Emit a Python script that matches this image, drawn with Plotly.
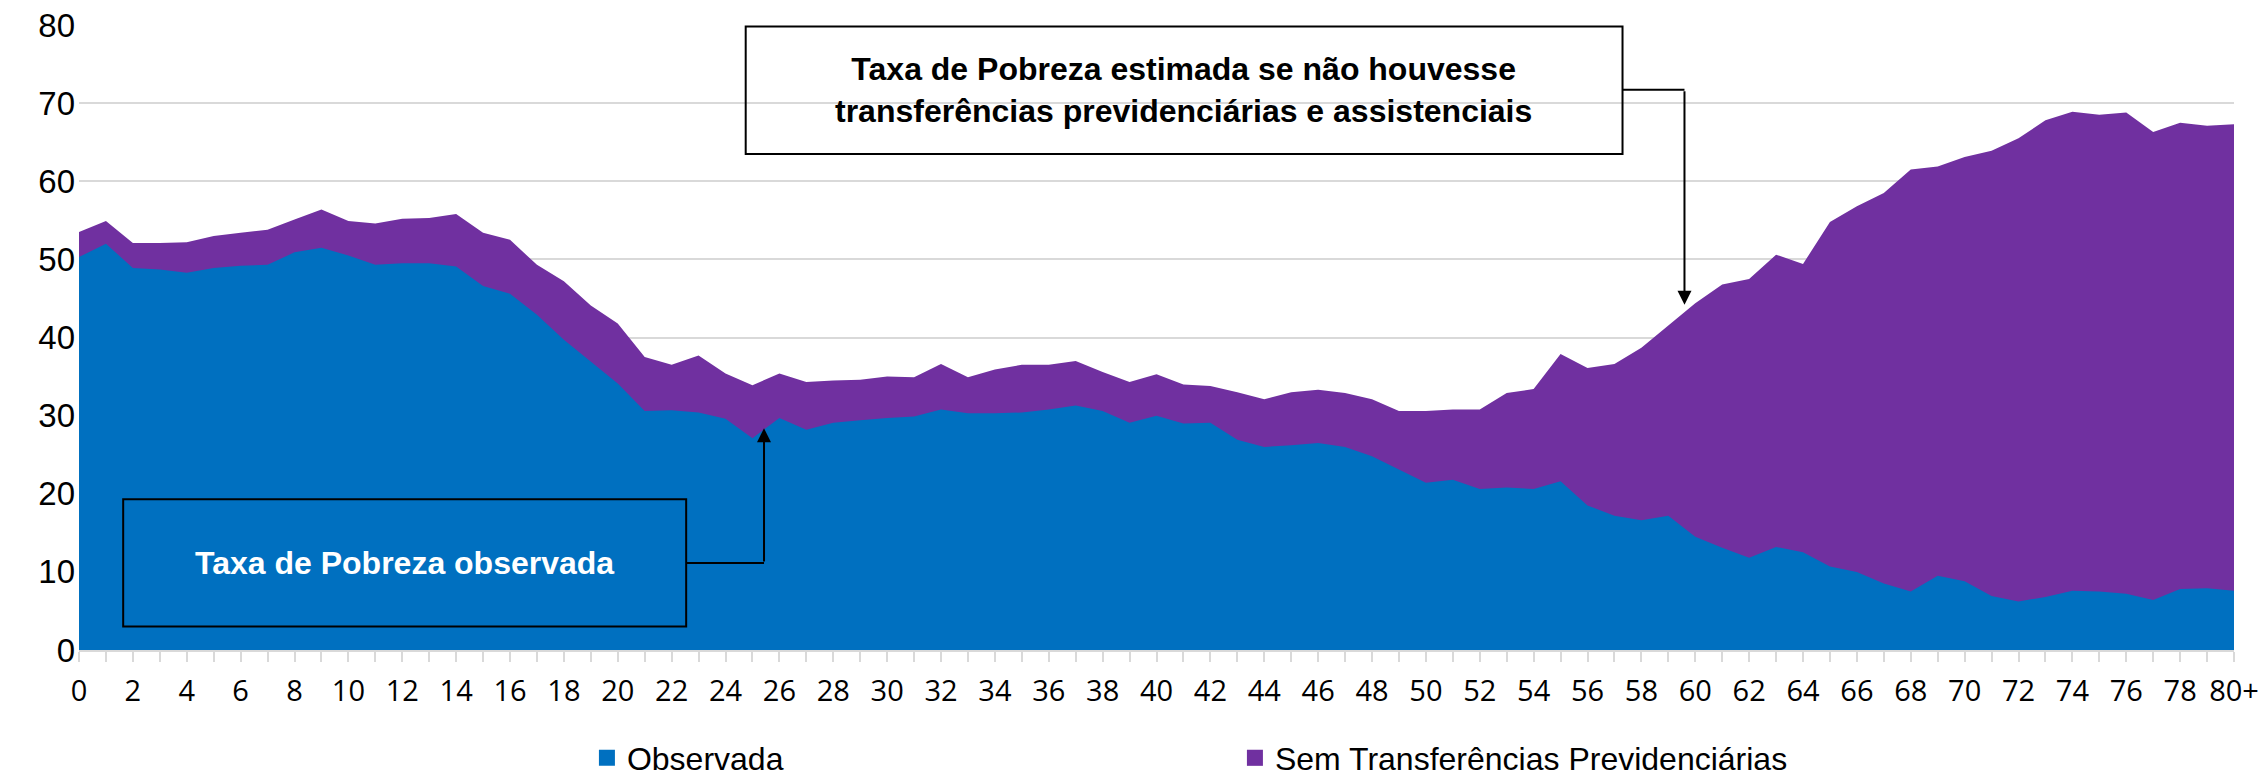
import plotly.graph_objects as go

# ---------------- data ----------------
categories = [str(i) for i in range(80)] + ["80+"]

observada = [50.3, 52.0, 48.9, 48.7, 48.3, 48.9, 49.2, 49.3, 50.9, 51.5,
             50.5, 49.3, 49.5, 49.5, 49.1, 46.6, 45.6, 42.9, 39.7, 36.9,
             34.1, 30.6, 30.7, 30.4, 29.6, 27.1, 29.7, 28.2, 29.1, 29.4,
             29.7, 29.9, 30.8, 30.3, 30.3, 30.4, 30.8, 31.3, 30.6, 29.1,
             30.0, 29.0, 29.1, 26.9, 26.0, 26.2, 26.5, 26.0, 24.8, 23.1,
             21.4, 21.8, 20.6, 20.8, 20.6, 21.6, 18.5, 17.2, 16.6, 17.2,
             14.5, 13.1, 11.8, 13.2, 12.5, 10.7, 10.0, 8.5, 7.5, 9.5,
             8.8, 6.9, 6.2, 6.8, 7.6, 7.5, 7.2, 6.4, 7.8, 7.9,
             7.6]

sem_transferencias = [53.5, 54.9, 52.1, 52.1, 52.2, 53.0, 53.4, 53.8, 55.1, 56.4,
                      54.9, 54.6, 55.2, 55.3, 55.8, 53.4, 52.5, 49.3, 47.2, 44.1,
                      41.8, 37.5, 36.5, 37.7, 35.4, 33.9, 35.4, 34.3, 34.5, 34.6,
                      35.0, 34.9, 36.6, 34.9, 35.9, 36.5, 36.5, 37.0, 35.6, 34.3,
                      35.3, 34.0, 33.8, 33.0, 32.1, 33.0, 33.3, 32.9, 32.1, 30.6,
                      30.6, 30.8, 30.8, 32.9, 33.4, 37.9, 36.1, 36.6, 38.7, 41.5,
                      44.4, 46.8, 47.5, 50.6, 49.4, 54.8, 56.8, 58.5, 61.5, 61.9,
                      63.1, 63.9, 65.5, 67.8, 68.9, 68.5, 68.8, 66.3, 67.5, 67.1,
                      67.3]

series_names = ["Observada", "Sem Transferências Previdenciárias"]
y_ticks = [0, 10, 20, 30, 40, 50, 60, 70, 80]

note_top = "Taxa de Pobreza estimada se não houvesse<br>transferências previdenciárias e assistenciais"
note_bottom = "Taxa de Pobreza observada"

BLUE = "#0070C0"
PURPLE = "#7030A0"
GRID = "#D9D9D9"

fig = go.Figure()

fig.add_trace(go.Scatter(x=categories, y=sem_transferencias, mode="lines",
                         fill="tozeroy", fillcolor=PURPLE,
                         line=dict(width=0, color=PURPLE),
                         name=series_names[1], showlegend=False,
                         hoverinfo="x+y"))
fig.add_trace(go.Scatter(x=categories, y=observada, mode="lines",
                         fill="tozeroy", fillcolor=BLUE,
                         line=dict(width=0, color=BLUE),
                         name=series_names[0], showlegend=False,
                         hoverinfo="x+y"))

# legend entries (square swatches)
for nm, col in [(series_names[0], BLUE), (series_names[1], PURPLE)]:
    fig.add_trace(go.Scatter(x=[None], y=[None], mode="markers", name=nm,
                             marker=dict(symbol="square", size=18, color=col),
                             showlegend=True))

# every other category labelled
ticktext = [c if i % 2 == 0 else "" for i, c in enumerate(categories)]

fig.update_layout(
    width=2260, height=781,
    margin=dict(l=79, r=26, t=25, b=131, autoexpand=False),
    paper_bgcolor="white", plot_bgcolor="white",
    showlegend=True,
    legend=dict(orientation="h", xref="container", yref="container",
                x=0.2597, xanchor="left", y=0.0294, yanchor="middle",
                entrywidth=603,
                font=dict(family="Liberation Sans, Arial, sans-serif",
                          size=32, color="#000000"),
                itemsizing="trace", bgcolor="rgba(0,0,0,0)"),
    xaxis=dict(type="category", range=[0, 80],
               tickmode="array", tickvals=categories, ticktext=ticktext,
               tickangle=0,
               showgrid=False, zeroline=False,
               showline=True, linecolor=GRID, linewidth=2,
               ticks="outside", ticklen=10, tickwidth=2, tickcolor=GRID,
               ticklabelstandoff=4, ticklabeloverflow="allow",
               tickfont=dict(family="Open Sans, Noto Sans, sans-serif",
                             size=29, color="#000000")),
    yaxis=dict(range=[0, 80], tickmode="array", tickvals=y_ticks,
               showgrid=True, gridcolor=GRID, gridwidth=2,
               zeroline=False, showline=False, ticks="",
               ticklabelstandoff=3, ticklabeloverflow="allow",
               tickfont=dict(family="Liberation Sans, Arial, sans-serif",
                             size=33, color="#000000")),
)

# annotation boxes and connectors (in data coordinates)
shapes = [
    # top (transparent) box
    dict(type="rect", xref="x", yref="y", x0=24.75, x1=57.3, y0=63.5, y1=79.8,
         line=dict(color="black", width=2), fillcolor="rgba(0,0,0,0)", layer="above"),
    dict(type="line", xref="x", yref="y", x0=57.3, x1=59.6, y0=71.7, y1=71.7,
         line=dict(color="black", width=2), layer="above"),
    # bottom (blue) box
    dict(type="rect", xref="x", yref="y", x0=1.64, x1=22.54, y0=3.0, y1=19.3,
         line=dict(color="black", width=2), fillcolor=BLUE, layer="above"),
    dict(type="line", xref="x", yref="y", x0=22.54, x1=25.43, y0=11.15, y1=11.15,
         line=dict(color="black", width=2), layer="above"),
]
fig.update_layout(shapes=shapes)

fig.add_annotation(x=59.6, y=44.2, ax=59.6, ay=71.7, xref="x", yref="y",
                   axref="x", ayref="y", showarrow=True, arrowhead=2,
                   arrowwidth=2, arrowsize=1.4, arrowcolor="black", text="")
fig.add_annotation(x=25.43, y=28.4, ax=25.43, ay=11.15, xref="x", yref="y",
                   axref="x", ayref="y", showarrow=True, arrowhead=2,
                   arrowwidth=2, arrowsize=1.4, arrowcolor="black", text="")

fig.add_annotation(x=41.0, y=71.65, xref="x", yref="y", showarrow=False,
                   text="<b>" + note_top.replace("<br>", "</b><br><b>") + "</b>",
                   align="center",
                   font=dict(family="Liberation Sans, Arial, sans-serif",
                             size=32, color="black"))
fig.add_annotation(x=12.09, y=11.15, xref="x", yref="y", showarrow=False,
                   text="<b>" + note_bottom + "</b>", align="center",
                   font=dict(family="Liberation Sans, Arial, sans-serif",
                             size=32, color="white"))

# remove the default page margin so the 2260x781 figure fills the window exactly
fig.write_html("out.html",
               config={"displayModeBar": False},
               post_script="document.body.style.margin='0';"
                           "document.body.style.overflow='hidden';")
